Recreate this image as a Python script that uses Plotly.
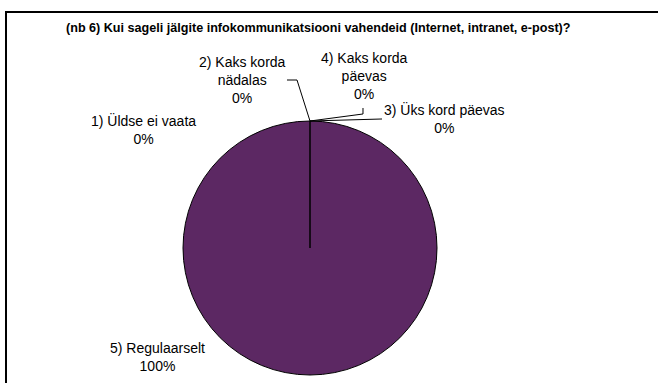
import plotly.graph_objects as go

W, H = 658, 383

categories = ["1) Üldse ei vaata", "2) Kaks korda<br>nädalas", "3) Üks kord päevas",
              "4) Kaks korda<br>päevas", "5) Regulaarselt"]
values = [0, 0, 0, 0, 100]
title_text = "(nb 6) Kui sageli jälgite infokommunikatsiooni vahendeid (Internet, intranet, e-post)?"
slice_color = "#5c2863"

def px(x, y):
    return x / W, 1 - y / H

total = sum(values)
pcts = [f"{round(v / total * 100)}%" for v in values]

# label anchor positions (pixels, centre of text block)
label_pos = [(143, 130), (242, 80), (444, 118), (364, 76), (157, 357)]

fig = go.Figure()
cx, cy, r = 310, 248, 127
x0, y1 = px(cx - r, cy - r)
x1, y0 = px(cx + r, cy + r)

# chart frame drawn on a hidden pixel-scaled axis (left and top edges visible)
fig.add_trace(go.Scatter(x=[6, 6, W + 20], y=[H + 20, 12, 12], mode="lines",
                         line=dict(color="black", width=2), hoverinfo="skip",
                         showlegend=False, cliponaxis=False))

fig.add_trace(go.Pie(
    labels=categories, values=values, sort=False, direction="clockwise", rotation=0,
    marker=dict(colors=[slice_color] * 5, line=dict(color="black", width=1)),
    textinfo="none", hoverinfo="label+percent", showlegend=False,
    domain=dict(x=[x0, x1], y=[y0, y1]),
))

annotations = []
for cat, p, (lx, ly) in zip(categories, pcts, label_pos):
    ax, ay = px(lx, ly)
    annotations.append(dict(x=ax, y=ay, xref="paper", yref="paper", text=f"{cat}<br>{p}",
                            showarrow=False, align="center", xanchor="center", yanchor="middle",
                            font=dict(family="Liberation Sans, Arial", size=14, color="black")))
tx, ty = px(318, 28)
annotations.append(dict(x=tx, y=ty, xref="paper", yref="paper", text=f"<b>{title_text}</b>",
                        showarrow=False, xanchor="center", yanchor="middle",
                        font=dict(family="Liberation Sans, Arial", size=12.6, color="black")))

def path(points):
    s = ""
    for i, (x, y) in enumerate(points):
        xx, yy = px(x, y)
        s += ("M" if i == 0 else "L") + f"{xx:.5f},{yy:.5f} "
    return s

shapes = []
leaders = [
    [(287, 80), (297, 80), (cx, cy - r)],
    [(363, 108), (363, 114), (cx, cy - r)],
    [(382, 119), (cx, cy - r)],
]
for pts in leaders:
    shapes.append(dict(type="path", xref="paper", yref="paper", path=path(pts),
                       line=dict(color="black", width=1)))
# radial line at 12 o'clock (boundary of the zero slices)
shapes.append(dict(type="path", xref="paper", yref="paper", path=path([(cx, cy), (cx, cy - r)]),
                   line=dict(color="black", width=1.5)))

fig.update_layout(width=W, height=H, margin=dict(l=0, r=0, t=0, b=0),
                  paper_bgcolor="white", plot_bgcolor="rgba(0,0,0,0)",
                  xaxis=dict(range=[0, W], visible=False, fixedrange=True, domain=[0, 1]),
                  yaxis=dict(range=[H, 0], visible=False, fixedrange=True, domain=[0, 1]),
                  annotations=annotations, shapes=shapes)
fig.write_html("out.html", config={"displayModeBar": False},
               post_script="document.body.style.margin='0';document.body.style.overflow='hidden';")
